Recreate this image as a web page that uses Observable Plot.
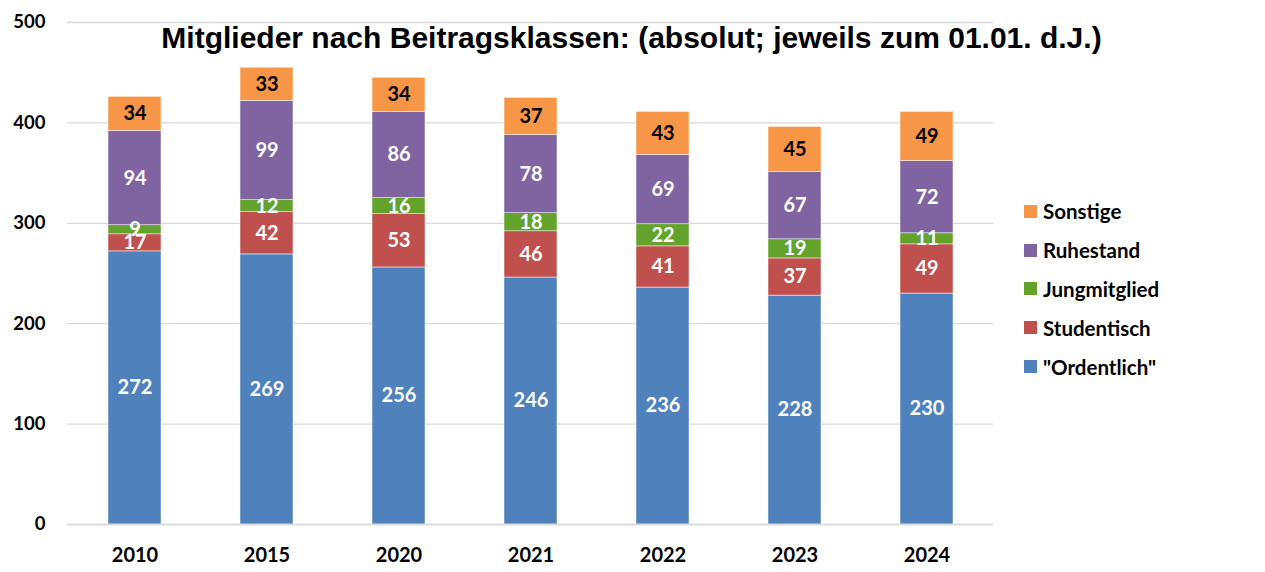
<!DOCTYPE html>
<html><head><meta charset="utf-8">
<script src="https://cdn.jsdelivr.net/npm/d3@7"></script>
<script src="https://cdn.jsdelivr.net/npm/@observablehq/plot@0.6"></script>
<style>
body{margin:0;background:#fff;}
#wrap{position:relative;width:1265px;height:572px;overflow:hidden;}
#title{position:absolute;left:0;width:1263px;top:20.5px;text-align:center;font:bold 30px "Liberation Sans",Arial,sans-serif;color:#000;white-space:nowrap;}
#legend{position:absolute;left:1024px;top:192px;font:bold 20.5px Lato,"Open Sans",sans-serif;color:#000;}
#legend div{height:38.8px;display:flex;align-items:center;}
#legend span.sw{display:inline-block;width:13px;height:13px;margin-right:6px;}
</style></head>
<body><div id="wrap"><div id="chart"></div><div id="title">Mitglieder nach Beitragsklassen: (absolut; jeweils zum 01.01. d.J.)</div><div id="legend"></div></div>
<script>
const years = ["2010","2015","2020","2021","2022","2023","2024"];
const categories = ["\"Ordentlich\"","Studentisch","Jungmitglied","Ruhestand","Sonstige"];
const colors = ["#4F81BD","#C0504D","#63A22B","#8064A2","#F79646"];
const labelColors = ["#fff","#fff","#fff","#fff","#000"];
const ordentlich = [272,269,256,246,236,228,230];
const studentisch = [17,42,53,46,41,37,49];
const jungmitglied = [9,12,16,18,22,19,11];
const ruhestand = [94,99,86,78,69,67,72];
const sonstige = [34,33,34,37,43,45,49];
const yTicks = [0,100,200,300,400,500];

const series = [ordentlich, studentisch, jungmitglied, ruhestand, sonstige];
const data = [];
categories.forEach((c, ci) => years.forEach((y, yi) => data.push({year: y, cat: c, value: series[ci][yi], lc: labelColors[ci]})));

const chart = Plot.plot({
  width: 1265, height: 572,
  marginLeft: 67, marginRight: 272, marginTop: 22, marginBottom: 48,
  style: {fontFamily: "Lato, 'Open Sans', sans-serif", fontWeight: "bold", fontSize: "18px", color: "#000", background: "#fff"},
  x: {domain: years, paddingInner: 0.6, paddingOuter: 0.3, label: null},
  y: {domain: [0, 500], label: null},
  color: {domain: categories, range: colors},
  marks: [
    Plot.gridY(yTicks, {stroke: "#d9d9d9", strokeOpacity: 1, strokeWidth: 1.3}),
    Plot.axisY(yTicks, {tickSize: 0, tickPadding: 22, fontSize: 18.5, fontWeight: "bold", label: null}),
    Plot.axisX({tickSize: 0, tickPadding: 23, fontSize: 20, fontWeight: "bold", label: null}),
    Plot.barY(data, {x: "year", y: "value", fill: "cat", order: categories, stroke: "#fff", strokeWidth: 0.5}),
    Plot.ruleY([0], {stroke: "#d9d9d9", strokeWidth: 1.5}),
    Plot.text(data, Plot.stackY({x: "year", y: "value", z: "cat", order: categories, text: d => String(d.value), fill: "lc", fontSize: 20, fontWeight: "bold"}))
  ]
});
document.getElementById("chart").appendChild(chart);

const lg = document.getElementById("legend");
for (let i = categories.length - 1; i >= 0; i--) {
  const row = document.createElement("div");
  row.innerHTML = `<span class="sw" style="background:${colors[i]}"></span>${categories[i].replace(/"/g, "&quot;")}`;
  lg.appendChild(row);
}
</script></body></html>
